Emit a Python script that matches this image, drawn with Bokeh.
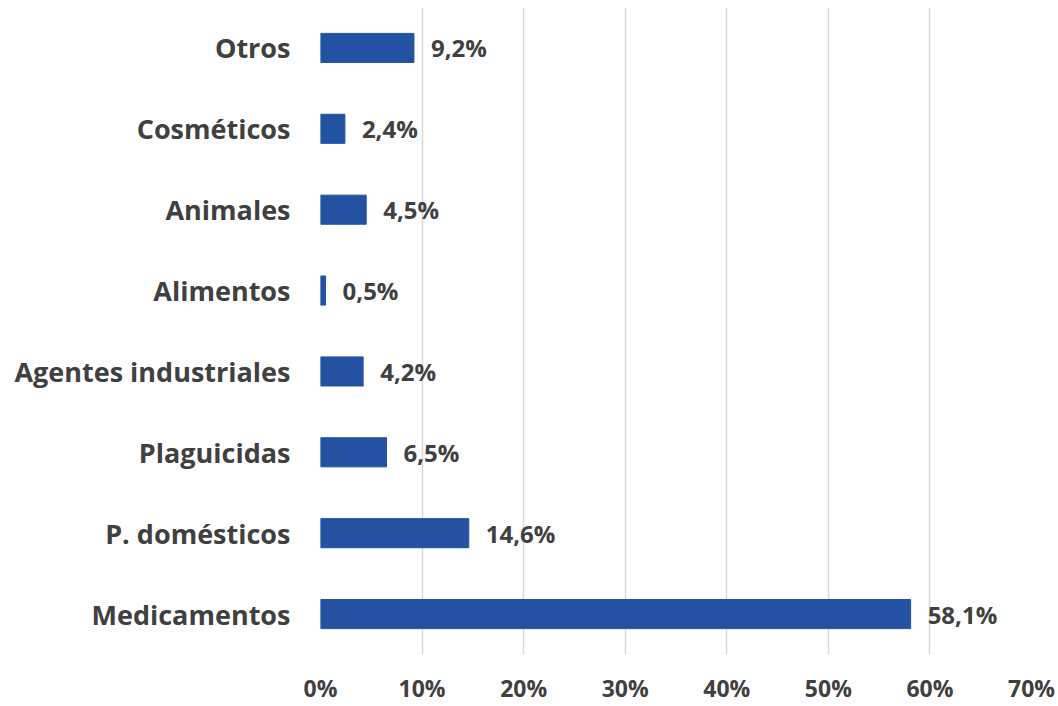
from bokeh.plotting import figure
from bokeh.models import FactorRange, Range1d, FixedTicker, ColumnDataSource, CustomJSTickFormatter
from bokeh.core.properties import value
from bokeh.embed import file_html
from bokeh.resources import INLINE

categories = ["Medicamentos", "P. domésticos", "Plaguicidas", "Agentes industriales",
              "Alimentos", "Animales", "Cosméticos", "Otros"]
values = [58.1, 14.6, 6.5, 4.2, 0.5, 4.5, 2.4, 9.2]
ticks = [0, 10, 20, 30, 40, 50, 60, 70]

labels = [f"{v:.1f}".replace(".", ",") + "%" for v in values]
src = ColumnDataSource(dict(cat=categories, val=values, lab=labels))

FONT = "Open Sans"
TXT = "#404040"

p = figure(width=1056, height=706, output_backend="svg", toolbar_location=None,
           y_range=FactorRange(*categories), x_range=Range1d(0, 70),
           min_border_left=320, min_border_right=25, min_border_top=7, min_border_bottom=40)
p.outline_line_color = None
p.hbar(y="cat", right="val", left=0, height=0.36, source=src, color="#2352A3")
p.text(x="val", y="cat", text="lab", source=src, x_offset=17, text_baseline="middle",
       text_align="left", text_font=value(FONT), text_font_style="bold",
       text_font_size="24px", text_color=TXT)

p.xaxis.ticker = FixedTicker(ticks=ticks)
p.xaxis.formatter = CustomJSTickFormatter(code="return tick + '%';")
p.xaxis.axis_line_color = None
p.xaxis.major_tick_line_color = None
p.xaxis.minor_tick_line_color = None
p.xaxis.major_label_text_font = FONT
p.xaxis.major_label_text_font_style = "bold"
p.xaxis.major_label_text_font_size = "23px"
p.xaxis.major_label_text_color = TXT
p.xaxis.major_label_standoff = 11

p.yaxis.axis_line_color = None
p.yaxis.major_tick_line_color = None
p.yaxis.major_label_text_font = FONT
p.yaxis.major_label_text_font_style = "bold"
p.yaxis.major_label_text_font_size = "27px"
p.yaxis.major_label_text_color = TXT
p.yaxis.major_label_standoff = 24

p.ygrid.grid_line_color = None
p.xgrid.grid_line_color = "#d9d9d9"
p.xgrid.grid_line_width = 1.5

open("out.html", "w").write(file_html(p, INLINE))
